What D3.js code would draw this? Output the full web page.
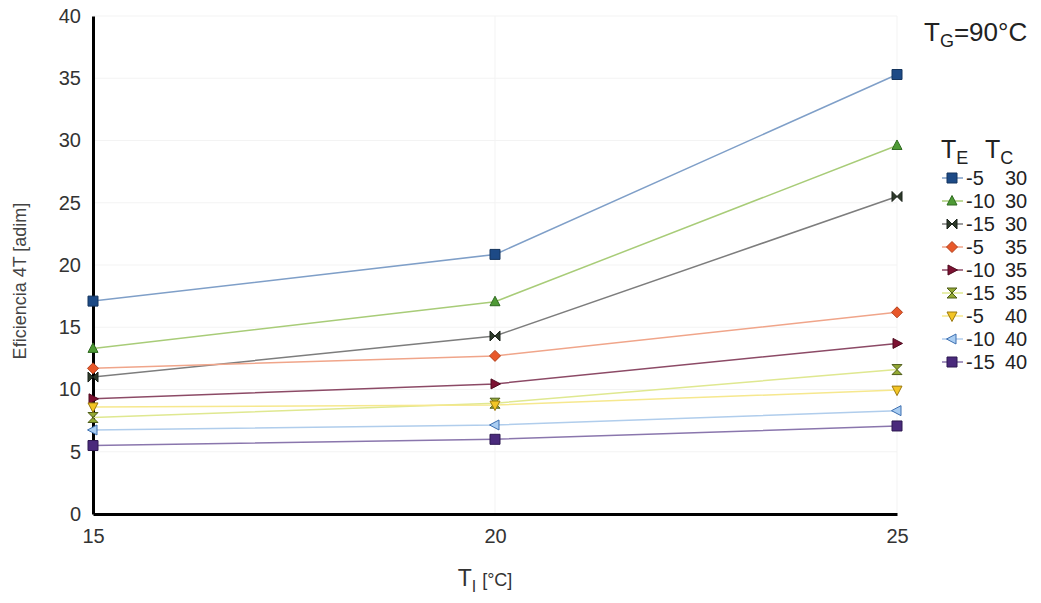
<!DOCTYPE html>
<html>
<head>
<meta charset="utf-8">
<script src="https://cdn.jsdelivr.net/npm/d3@7"></script>
<style>
  body { margin: 0; background: #fff; }
  text { font-family: "Liberation Sans", Arial, sans-serif; }
</style>
</head>
<body>
<div id="chart"></div>
<script>
const width = 1041;
const height = 603;

// data
const xValues = [15, 20, 25];
const yTicks = [0, 5, 10, 15, 20, 25, 30, 35, 40];
const teLabels = ["-5", "-10", "-15", "-5", "-10", "-15", "-5", "-10", "-15"];
const tcLabels = ["30", "30", "30", "35", "35", "35", "40", "40", "40"];
const s_m5_30 = [17.1, 20.85, 35.3];
const s_m10_30 = [13.3, 17.05, 29.6];
const s_m15_30 = [11.0, 14.3, 25.5];
const s_m5_35 = [11.7, 12.7, 16.2];
const s_m10_35 = [9.25, 10.45, 13.7];
const s_m15_35 = [7.75, 8.9, 11.6];
const s_m5_40 = [8.6, 8.75, 9.95];
const s_m10_40 = [6.75, 7.15, 8.3];
const s_m15_40 = [5.5, 6.0, 7.07];

const seriesValues = [s_m5_30, s_m10_30, s_m15_30, s_m5_35, s_m10_35, s_m15_35, s_m5_40, s_m10_40, s_m15_40];
const lineColors = ["#7f9fc8", "#a8cc78", "#7d7d7d", "#f0a58a", "#8c4a66", "#dfe890", "#f6e88e", "#b0cdec", "#8a76ad"];
const markerFill = ["#1d4a86", "#4e9a34", "#2d3a2a", "#e8582a", "#7d1232", "#93a933", "#f3c525", "#a9cdf2", "#4a2a7c"];
const markerStroke = ["#15355e", "#2f6a20", "#1a221a", "#b3401c", "#4e0a1e", "#4f5d1a", "#9c7a10", "#3d6fb0", "#2c1850"];
const markerKind = ["square", "triangleUp", "bowtie", "diamond", "triangleRight", "hourglass", "triangleDown", "triangleLeft", "square"];

const series = seriesValues.map((v, i) => ({
  te: teLabels[i], tc: tcLabels[i], values: v,
  line: lineColors[i], fill: markerFill[i], stroke: markerStroke[i], kind: markerKind[i]
}));

const margin = { left: 93, right: 143, top: 16, bottom: 89 };
const x = d3.scaleLinear().domain([15, 25]).range([margin.left, width - margin.right - 1]);
const y = d3.scaleLinear().domain([0, 40]).range([height - margin.bottom, margin.top]);

const svg = d3.select("#chart").append("svg")
  .attr("width", width).attr("height", height);

// very faint grid
svg.append("g").selectAll("line").data(yTicks.slice(1)).join("line")
  .attr("x1", x(15)).attr("x2", x(25))
  .attr("y1", d => y(d)).attr("y2", d => y(d))
  .attr("stroke", "#f3f3f3").attr("stroke-width", 1);
svg.append("g").selectAll("line").data(xValues.slice(1)).join("line")
  .attr("x1", d => x(d)).attr("x2", d => x(d))
  .attr("y1", y(0)).attr("y2", y(40))
  .attr("stroke", "#f3f3f3").attr("stroke-width", 1);

// axes
const yAxis = svg.append("g").attr("transform", `translate(${x(15)},0)`)
  .call(d3.axisLeft(y).tickValues(yTicks).tickSize(0).tickPadding(12));
yAxis.select(".domain").attr("stroke", "#000").attr("stroke-width", 3);
yAxis.selectAll("text").attr("font-size", 20).attr("fill", "#333");

const xAxis = svg.append("g").attr("transform", `translate(0,${y(0)})`)
  .call(d3.axisBottom(x).tickValues(xValues).tickSize(0).tickPadding(15));
xAxis.select(".domain").attr("stroke", "#000").attr("stroke-width", 3);
xAxis.selectAll("text").attr("font-size", 20).attr("fill", "#333");

// marker shapes
function markerPath(kind, s) {
  switch (kind) {
    case "square": return `M${-s},${-s}H${s}V${s}H${-s}Z`;
    case "triangleUp": return `M0,${-s * 1.1}L${s},${s * 0.8}L${-s},${s * 0.8}Z`;
    case "triangleDown": return `M0,${s * 1.1}L${s},${-s * 0.8}L${-s},${-s * 0.8}Z`;
    case "triangleRight": return `M${s * 1.1},0L${-s * 0.8},${s}L${-s * 0.8},${-s}Z`;
    case "triangleLeft": return `M${-s * 1.1},0L${s * 0.8},${s}L${s * 0.8},${-s}Z`;
    case "diamond": return `M0,${-s * 1.1}L${s * 1.1},0L0,${s * 1.1}L${-s * 1.1},0Z`;
    case "bowtie": return `M${-s},${-s}L${s},${s}V${-s}L${-s},${s}Z`;
    case "hourglass": return `M${-s},${-s}H${s}L${-s},${s}H${s}Z`;
  }
}

const line = d3.line().x((d, i) => x(xValues[i])).y(d => y(d));

const g = svg.append("g");
series.forEach(s => {
  g.append("path").datum(s.values)
    .attr("d", line)
    .attr("fill", "none")
    .attr("stroke", s.line)
    .attr("stroke-width", 1.5);
});
series.forEach(s => {
  g.append("g").selectAll("path").data(s.values).join("path")
    .attr("transform", (d, i) => `translate(${x(xValues[i])},${y(d)})`)
    .attr("d", markerPath(s.kind, 5))
    .attr("fill", s.fill)
    .attr("stroke", s.stroke)
    .attr("stroke-width", 1);
});

// axis titles
svg.append("text")
  .attr("transform", `translate(26,${(y(0) + y(40)) / 2 + 16}) rotate(-90)`)
  .attr("text-anchor", "middle")
  .attr("font-size", 18).attr("fill", "#444")
  .text("Eficiencia 4T [adim]");

const xt = svg.append("text")
  .attr("x", x(20) - 10).attr("y", 586)
  .attr("text-anchor", "middle")
  .attr("font-size", 23).attr("fill", "#333");
xt.append("tspan").text("T");
xt.append("tspan").attr("dy", 6).attr("font-size", 16).text("I");
xt.append("tspan").attr("dy", -6).attr("dx", 6).attr("font-size", 18).text("[°C]");

// TG label
const tg = svg.append("text")
  .attr("x", 924).attr("y", 41)
  .attr("font-size", 26).attr("fill", "#222")
  .attr("font-family", "DejaVu Sans");
tg.append("tspan").text("T");
tg.append("tspan").attr("dy", 6).attr("font-size", 18).text("G");
tg.append("tspan").attr("dy", -6).text("=90°C");

// legend
const legend = svg.append("g");
const hdr = [{ t: "E", x: 941 }, { t: "C", x: 985 }];
hdr.forEach(h => {
  const t = legend.append("text").attr("x", h.x).attr("y", 158)
    .attr("font-size", 25).attr("fill", "#222");
  t.append("tspan").text("T");
  t.append("tspan").attr("dy", 6).attr("font-size", 18).text(h.t);
});

const ly = d3.scalePoint().domain(d3.range(series.length)).range([178, 362]);
const rows = legend.selectAll("g.row").data(series).join("g")
  .attr("class", "row")
  .attr("transform", (d, i) => `translate(0,${ly(i)})`);
rows.append("line").attr("x1", 942).attr("x2", 963)
  .attr("stroke", d => d.line).attr("stroke-width", 1.5);
rows.append("path").attr("transform", "translate(952,0)")
  .attr("d", d => markerPath(d.kind, 5))
  .attr("fill", d => d.fill).attr("stroke", d => d.stroke).attr("stroke-width", 1);
rows.append("text").attr("x", 966).attr("y", 7)
  .attr("font-size", 20).attr("fill", "#222").text(d => d.te);
rows.append("text").attr("x", 1005).attr("y", 7)
  .attr("font-size", 20).attr("fill", "#222").text(d => d.tc);
</script>
</body>
</html>
